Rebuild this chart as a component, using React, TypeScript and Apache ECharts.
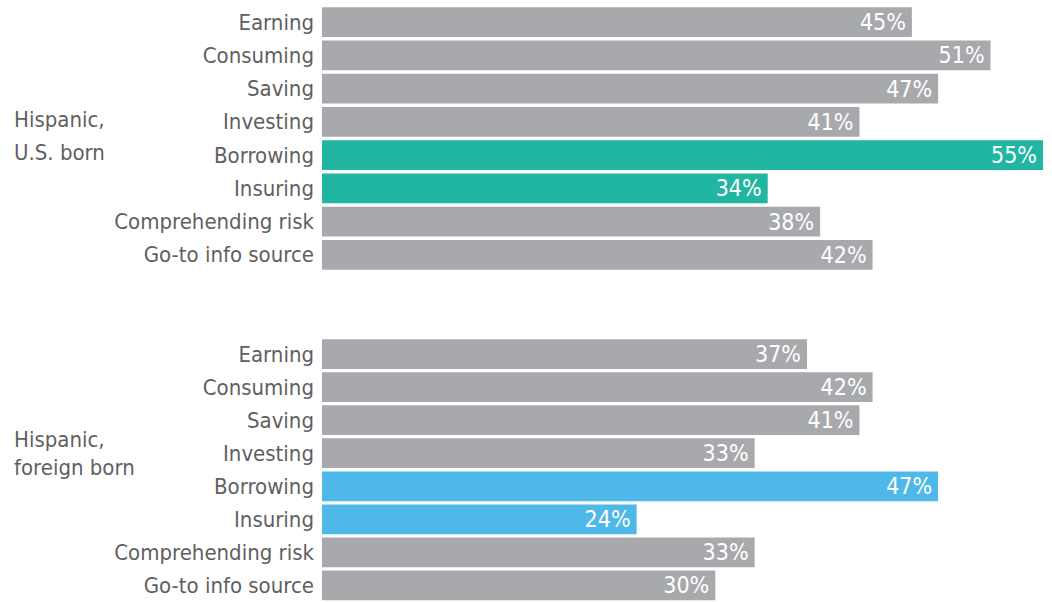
import React, { useEffect, useRef } from "react";
import * as echarts from "echarts";

const categories = [
  "Earning",
  "Consuming",
  "Saving",
  "Investing",
  "Borrowing",
  "Insuring",
  "Comprehending risk",
  "Go-to info source",
];
const usBorn = [45, 51, 47, 41, 55, 34, 38, 42];
const foreignBorn = [37, 42, 41, 33, 47, 24, 33, 30];
const groupLabels = ["Hispanic,\nU.S. born", "Hispanic,\nforeign born"];
const highlight = ["Borrowing", "Insuring"];

const GREY = "#a8a9ad";
const TEAL = "#21b6a1";
const BLUE = "#4eb8e8";
const FONT = "'Liberation Sans Narrow', 'DejaVu Sans Condensed', 'Roboto', sans-serif";

export default function App() {
  const ref = useRef<HTMLDivElement>(null);
  useEffect(() => {
    if (!ref.current) return;
    const chart = echarts.init(ref.current, undefined, { renderer: "svg" });
    const mkData = (vals: number[], hl: string) =>
      vals.map((v, i) => ({
        value: v,
        itemStyle: { color: highlight.includes(categories[i]) ? hl : GREY },
      }));
    const yAx = (gi: number) => ({
      type: "category" as const,
      gridIndex: gi,
      data: categories,
      inverse: true,
      axisLine: { show: false },
      axisTick: { show: false },
      axisLabel: { color: "#5f5f5f", fontSize: 22, fontFamily: FONT, margin: 8 },
    });
    const xAx = (gi: number) => ({
      type: "value" as const,
      gridIndex: gi,
      min: 0,
      max: 55,
      show: false,
    });
    const label = {
      show: true,
      position: "insideRight" as const,
      distance: 6,
      color: "#ffffff",
      fontSize: 23,
      fontFamily: FONT,
      formatter: "{c}%",
    };
    chart.setOption({
      animation: false,
      grid: [
        { left: 322, width: 721, top: 5.5, height: 266 },
        { left: 322, width: 721, top: 337.5, height: 265 },
      ],
      xAxis: [xAx(0), xAx(1)],
      yAxis: [yAx(0), yAx(1)],
      series: [
        {
          type: "bar",
          xAxisIndex: 0,
          yAxisIndex: 0,
          data: mkData(usBorn, TEAL),
          barCategoryGap: "10%",
          label,
        },
        {
          type: "bar",
          xAxisIndex: 1,
          yAxisIndex: 1,
          data: mkData(foreignBorn, BLUE),
          barCategoryGap: "10%",
          label,
        },
      ],
      graphic: [
        {
          type: "text",
          left: 14,
          top: 103,
          style: {
            text: groupLabels[0],
            fill: "#5f5f5f",
            fontSize: 22,
            fontFamily: FONT,
            lineHeight: 33,
          },
        },
        {
          type: "text",
          left: 14,
          top: 425,
          style: {
            text: groupLabels[1],
            fill: "#5f5f5f",
            fontSize: 22,
            fontFamily: FONT,
            lineHeight: 28,
          },
        },
      ],
    });
    return () => chart.dispose();
  }, []);
  return (
    <div
      ref={ref}
      style={{ position: "fixed", left: 0, top: 0, width: 1052, height: 602, background: "#fff" }}
    />
  );
}
